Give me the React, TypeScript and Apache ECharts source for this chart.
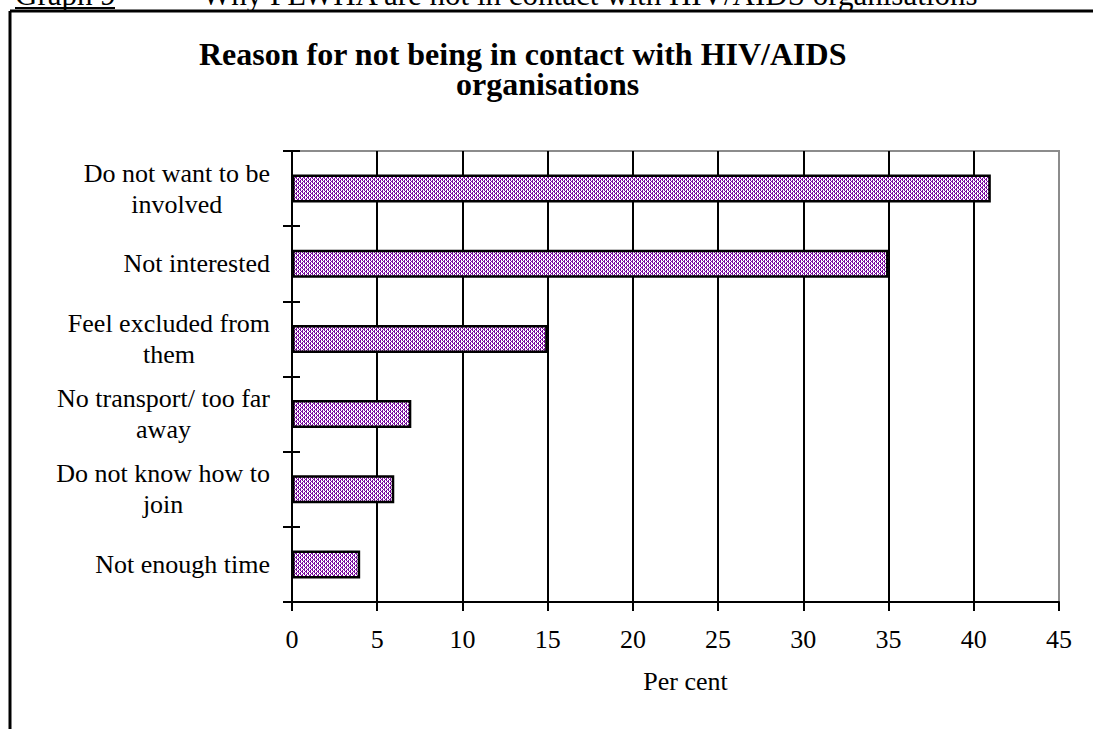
import { useEffect, useRef } from "react";
import * as echarts from "echarts";

// Survey answers: why people are not in contact with HIV/AIDS organisations
const categories = [
  "Do not want to be\ninvolved",
  "Not interested",
  "Feel excluded from\nthem",
  "No transport/ too far\naway",
  "Do not know how to\njoin",
  "Not enough time",
];
const percentages = [41, 35, 15, 7, 6, 4];

const titleLines = ["Reason for not being in contact with HIV/AIDS", "organisations"];
const headerLabel = "Graph 9";
const headerText = "Why PLWHA are not in contact with HIV/AIDS organisations";
const axisName = "Per cent";
const xMin = 0;
const xMax = 45;
const xStep = 5;

const SERIF = "'Liberation Serif', 'Times New Roman', Times, serif";

// Small dotted purple tile used as the bar fill
function makeDotTile(): HTMLCanvasElement {
  const c = document.createElement("canvas");
  c.width = 4;
  c.height = 4;
  const ctx = c.getContext("2d")!;
  ctx.fillStyle = "#ffffff";
  ctx.fillRect(0, 0, 4, 4);
  ctx.fillStyle = "#7a0aa0";
  const dots = [
    [0, 0], [2, 0],
    [0, 1], [3, 1],
    [0, 2], [2, 2],
    [1, 3], [2, 3],
  ];
  dots.forEach(([x, y]) => ctx.fillRect(x, y, 1, 1));
  return c;
}

export default function App() {
  const ref = useRef<HTMLDivElement>(null);

  useEffect(() => {
    if (!ref.current) return;
    const chart = echarts.init(ref.current, undefined, { renderer: "svg" });
    const tile = makeDotTile();

    const black = "#000";
    const textBase = { fontFamily: SERIF, color: black };
    const titleStyle = { ...textBase, fontSize: 32, fontWeight: "bold", lineHeight: 28 };

    const option: any = {
      animation: false,
      backgroundColor: "#ffffff",
      title: [
        { text: titleLines[0], left: 199, top: 40, padding: 0, textStyle: titleStyle },
        { text: titleLines[1], left: 456, top: 70, padding: 0, textStyle: titleStyle },
      ],
      grid: {
        left: 292,
        right: 34,
        top: 151,
        bottom: 127,
        show: true,
        backgroundColor: "#ffffff",
        borderColor: "#8c8c8c",
        borderWidth: 2,
      },
      xAxis: {
        type: "value",
        min: xMin,
        max: xMax,
        interval: xStep,
        name: axisName,
        nameLocation: "middle",
        nameGap: 66,
        nameTextStyle: { ...textBase, fontSize: 26, padding: [0, 0, 0, 20] },
        axisLine: { show: true, lineStyle: { color: black, width: 2 } },
        axisTick: { show: true, length: 9, lineStyle: { color: black, width: 2 } },
        axisLabel: { ...textBase, fontSize: 26, margin: 24 },
        splitLine: {
          show: true,
          showMinLine: false,
          showMaxLine: false,
          lineStyle: { color: black, width: 2 },
        },
      },
      yAxis: [
        {
          type: "category",
          data: categories,
          inverse: true,
          axisLine: { show: true, lineStyle: { color: black, width: 2 } },
          axisTick: { show: true, length: 9, lineStyle: { color: black, width: 2 } },
          axisLabel: {
            margin: 22,
            align: "right",
            formatter: (v: string) =>
              v
                .split("\n")
                .map((line) => `{c|${line}}`)
                .join("\n"),
            rich: {
              c: { ...textBase, fontSize: 26, lineHeight: 31, align: "center" },
            },
          },
          splitLine: { show: false },
        },
        {
          // second copy of the category axis: tick marks pointing into the plot
          type: "category",
          data: categories,
          inverse: true,
          position: "left",
          axisLine: { show: false },
          axisTick: { show: true, inside: true, length: 8, lineStyle: { color: black, width: 2 } },
          axisLabel: { show: false },
          splitLine: { show: false },
        },
      ],
      series: [
        {
          type: "bar",
          data: percentages,
          yAxisIndex: 0,
          barWidth: 28,
          itemStyle: {
            color: { image: tile, repeat: "repeat", imageWidth: 4, imageHeight: 4 },
            borderColor: black,
            borderWidth: 2.5,
          },
        },
      ],
      graphic: [
        {
          type: "line",
          shape: { x1: 10, y1: 11, x2: 1093, y2: 11 },
          style: { stroke: black, lineWidth: 3 },
        },
        {
          type: "line",
          shape: { x1: 10, y1: 11, x2: 10, y2: 729 },
          style: { stroke: black, lineWidth: 3 },
        },
        {
          type: "text",
          x: 15,
          y: -6,
          style: {
            text: headerLabel,
            fontSize: 31,
            fontFamily: SERIF,
            fill: black,
            verticalAlign: "middle",
          },
        },
        {
          type: "line",
          shape: { x1: 15, y1: 8, x2: 115, y2: 8 },
          style: { stroke: black, lineWidth: 2 },
        },
        {
          type: "text",
          x: 202,
          y: -6,
          style: {
            text: headerText,
            fontSize: 31,
            fontFamily: SERIF,
            fill: black,
            verticalAlign: "middle",
          },
        },
      ],
    };

    chart.setOption(option);
    return () => chart.dispose();
  }, []);

  return (
    <div
      ref={ref}
      style={{ position: "fixed", left: 0, top: 0, width: 1093, height: 729, background: "#fff" }}
    />
  );
}
